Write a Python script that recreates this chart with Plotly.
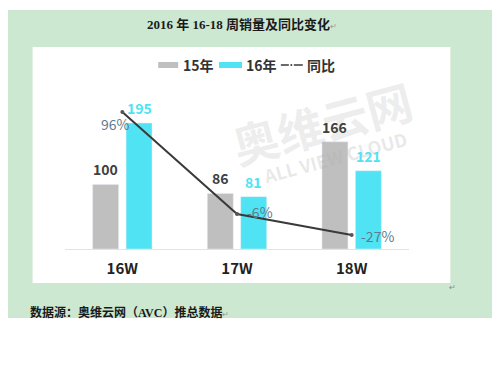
import plotly.graph_objects as go

categories = ["16W", "17W", "18W"]
sales_15 = [100, 86, 166]
sales_16 = [195, 81, 121]
yoy_pct = [96, -6, -27]
yoy_labels = ["96%", "-6%", "-27%"]

W, H = 500, 375
OFF = 8  # page body margin
ML, MR, MT, MB = 64.5 - OFF, 90.5 + OFF, 47 - OFF, 126 + OFF
PW = W - ML - MR
PH = H - MT - MB


def px(x):
    return (x - OFF - ML) / PW


def py(y):
    return (H - MB - (y - OFF)) / PH


GRAY = "#bfbfbf"
CYAN = "#4fe3f3"
LINE = "#3a3a3a"
LBL = "#5f7b8e"
SANS = "Noto Sans CJK SC, Noto Sans, sans-serif"
SERIF = "Liberation Serif, Noto Sans CJK SC, serif"

fig = go.Figure()
fig.add_trace(go.Bar(x=categories, y=sales_15, name="15年", marker_color=GRAY,
                     showlegend=False))
fig.add_trace(go.Bar(x=categories, y=sales_16, name="16年", marker_color=CYAN,
                     showlegend=False))
fig.add_trace(go.Scatter(x=categories, y=yoy_pct, name="同比", yaxis="y2",
                         mode="lines+markers", line=dict(color=LINE, width=2),
                         marker=dict(size=4, color="#555"), showlegend=False,
                         cliponaxis=False))

shapes = [
    dict(type="rect", xref="paper", yref="paper", x0=px(0), x1=px(500),
         y0=py(318), y1=py(10), fillcolor="#cde8d1", line_width=0, layer="below"),
    dict(type="rect", xref="paper", yref="paper", x0=px(32), x1=px(451),
         y0=py(283), y1=py(47), fillcolor="white", line_width=0, layer="below"),
    # legend swatches
    dict(type="rect", xref="paper", yref="paper", x0=px(158), x1=px(178),
         y0=py(68), y1=py(62), fillcolor=GRAY, line_width=0),
    dict(type="rect", xref="paper", yref="paper", x0=px(219), x1=px(242),
         y0=py(68), y1=py(62), fillcolor=CYAN, line_width=0),
    dict(type="line", xref="paper", yref="paper", x0=px(281), x1=px(289),
         y0=py(65), y1=py(65), line=dict(color=LINE, width=1.5)),
    dict(type="line", xref="paper", yref="paper", x0=px(294), x1=px(303),
         y0=py(65), y1=py(65), line=dict(color=LINE, width=1.5)),
    dict(type="circle", xref="paper", yref="paper", x0=px(290.5), x1=px(292.5),
         y0=py(66), y1=py(64), fillcolor=LINE, line_width=0),
]

ann = []
# watermark
ann.append(dict(text="<b>奥维云网</b>", x=px(322), y=py(122), xref="paper", yref="paper",
                xanchor="center", yanchor="middle",
                showarrow=False, textangle=-15,
                font=dict(size=46, color="rgba(175,175,175,0.22)", family=SANS)))
ann.append(dict(text="<b>ALL VIEW CLOUD</b>", x=px(335), y=py(157), xref="paper", yref="paper",
                xanchor="center", yanchor="middle",
                showarrow=False, textangle=-15,
                font=dict(size=18, color="rgba(175,175,175,0.28)", family=SANS)))

# title and footer
ann.append(dict(text="<b>2016 年 16-18 周销量及同比变化</b><span style='color:#999;font-size:8px'>↵</span>",
                x=px(242), y=py(25), xref="paper", yref="paper", showarrow=False,
                xanchor="center", yanchor="middle",
                font=dict(size=13, color="#1a1a1a", family=SERIF)))
ann.append(dict(text="<b>数据源：奥维云网（AVC）推总数据</b><span style='color:#999;font-size:8px'>↵</span>",
                x=px(27), y=py(312), xref="paper", yref="paper", showarrow=False,
                xanchor="left", yanchor="middle",
                font=dict(size=12, color="#1a1a1a", family=SERIF)))
ann.append(dict(text="↵", x=px(453), y=py(286), xref="paper", yref="paper",
                xanchor="center", yanchor="middle",
                showarrow=False, font=dict(size=8, color="#888")))

# legend texts
for t, xx in [("15年", 181), ("16年", 244), ("同比", 305)]:
    ann.append(dict(text="<b>" + t + "</b>", x=px(xx), y=py(65), xref="paper",
                    yref="paper", showarrow=False, xanchor="left", yanchor="middle",
                    font=dict(size=14, color="#333", family=SANS)))

# bar value labels
for c, v in zip(categories, sales_15):
    ann.append(dict(text="<b>%d</b>" % v, x=c, y=v, xref="x", yref="y", showarrow=False,
                    xshift=-16.75, yshift=15, yanchor="middle",
                    font=dict(size=14, color="#404040", family=SANS)))
for c, v in zip(categories, sales_16):
    ann.append(dict(text="<b>%d</b>" % v, x=c, y=v, xref="x", yref="y", showarrow=False,
                    xshift=16.75, yshift=15, yanchor="middle",
                    font=dict(size=14, color=CYAN, family=SANS)))

# yoy labels
offsets = [(-7, -12), (23, 2), (26, -1)]
for c, v, t, (dx, dy) in zip(categories, yoy_pct, yoy_labels, offsets):
    ann.append(dict(text=t, x=c, y=v, xref="x", yref="y2", showarrow=False,
                    xshift=dx, yshift=dy, yanchor="middle",
                    font=dict(size=14, color=LBL, family=SANS)))

fig.update_layout(
    width=W, height=H, autosize=False,
    margin=dict(l=ML, r=MR, t=MT, b=MB, pad=0),
    paper_bgcolor="white", plot_bgcolor="rgba(0,0,0,0)",
    barmode="group", bargap=0.417, bargroupgap=0.224,
    shapes=shapes, annotations=ann,
    xaxis=dict(type="category", range=[-0.5, 2.5], showgrid=False, zeroline=False,
               showline=True, linecolor="#e3e3e3", linewidth=1, ticks="",
               ticklabelstandoff=6,
               tickfont=dict(size=15, color="#222", family=SANS, weight="bold"),
               fixedrange=True),
    yaxis=dict(range=[0, 312.7], visible=False, fixedrange=True),
    yaxis2=dict(range=[-41, 161], overlaying="y", visible=False, fixedrange=True),
)

fig.write_html("out.html")
